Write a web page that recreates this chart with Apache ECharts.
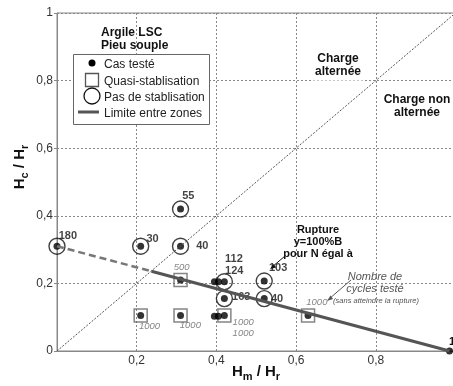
<!DOCTYPE html>
<html><head><meta charset="utf-8">
<script src="https://cdn.jsdelivr.net/npm/echarts@6/dist/echarts.min.js"></script>
<style>html,body{margin:0;padding:0;background:#fff}#c{width:453px;height:386px}</style>
</head><body><div id="c"></div>
<script>
// ---- data ----
const circleX = [0, 0.21, 0.31, 0.31, 0.42, 0.42, 0.52, 0.52];
const circleY = [0.31, 0.31, 0.31, 0.42, 0.205, 0.155, 0.207, 0.155];
const circleLabels = ['180', '30', '40', '55', '112\n124', '163', '103', '40'];
const squareX = [0.21, 0.31, 0.31, 0.42, 0.63];
const squareY = [0.105, 0.105, 0.21, 0.105, 0.105];
const squareLabels = ['1000', '1000', '500', '1000\n1000', '1000'];
const dotX = [0, 0.21, 0.31, 0.31, 0.42, 0.42, 0.52, 0.52, 0.21, 0.31, 0.31, 0.42, 0.63, 0.395, 0.405, 0.395, 0.405, 0.985];
const dotY = [0.31, 0.31, 0.31, 0.42, 0.205, 0.155, 0.207, 0.155, 0.105, 0.105, 0.21, 0.105, 0.105, 0.205, 0.205, 0.103, 0.103, 0];
const ruptureLabel = '1';
const limitX = [0, 0.237, 0.985];
const limitY = [0.31, 0.236, 0];
const diagX = [0, 1];
const diagY = [0, 1];

// ---- styles (label offsets, not data) ----
const circleOffsets = [[-7, -10], [-3, -7], [7, 0], [-7, -13], [-8, -17], [-1, -2], [-4, -13], [-2, 0]];
const squareOffsets = [[-9, 11], [-8, 10], [-14, -13], [1, 12], [-9, -13]];
const FONT = 'Arial, "Liberation Sans", sans-serif';

const zip = (xs, ys) => xs.map((x, i) => [x, ys[i]]);

const chart = echarts.init(document.getElementById('c'), null, {renderer: 'canvas'});

const circleData = circleX.map((x, i) => ({
  value: [x, circleY[i]],
  label: {formatter: circleLabels[i], offset: circleOffsets[i]}
}));
const squareData = squareX.map((x, i) => ({
  value: [x, squareY[i]],
  label: {formatter: squareLabels[i], offset: squareOffsets[i]}
}));

const fmt = v => v === 0 ? '0' : String(v).replace('.', ',');

const option = {
  animation: false,
  grid: {left: 57, top: 13, width: 398.5, height: 338, show: true, borderColor: '#888', borderWidth: 1,
         outerBoundsMode: 'none', containLabel: false},
  xAxis: {
    type: 'value', min: 0, max: 1, interval: 0.2,
    axisLine: {lineStyle: {color: '#888'}},
    axisTick: {show: false},
    splitLine: {lineStyle: {color: '#888', type: [2, 2], width: 1}},
    axisLabel: {color: '#333', fontSize: 12, fontFamily: FONT, margin: 4,
      formatter: v => (v === 0 || v === 1) ? '' : fmt(v)}
  },
  yAxis: {
    type: 'value', min: 0, max: 1, interval: 0.2,
    axisLine: {lineStyle: {color: '#888'}},
    axisTick: {show: true, length: 3, lineStyle: {color: '#888'}},
    splitLine: {lineStyle: {color: '#888', type: [2, 2], width: 1}},
    axisLabel: {color: '#333', fontSize: 12, fontFamily: FONT, margin: 4, formatter: fmt}
  },
  series: [
    {type: 'line', data: zip(diagX, diagY), symbol: 'none', silent: true,
     lineStyle: {color: '#555', width: 1, type: [2, 1.5]}},
    {type: 'line', data: zip(limitX.slice(0, 2), limitY.slice(0, 2)), symbol: 'none', silent: true,
     lineStyle: {color: '#777', width: 2.5, type: [7, 4]}},
    {type: 'line', data: zip(limitX.slice(1), limitY.slice(1)), symbol: 'none', silent: true,
     lineStyle: {color: '#555', width: 3}},
    {type: 'scatter', data: squareData, symbol: 'rect', symbolSize: 13, silent: true, clip: false,
     itemStyle: {color: 'rgba(255,255,255,0)', borderColor: '#666', borderWidth: 1.5},
     label: {show: true, position: 'right', distance: 0, color: '#666', fontSize: 9.5,
       fontStyle: 'italic', fontFamily: FONT, lineHeight: 11}},
    {type: 'scatter', data: circleData, symbol: 'circle', symbolSize: 16, silent: true, clip: false,
     itemStyle: {color: 'rgba(255,255,255,0)', borderColor: '#111', borderWidth: 1.4},
     label: {show: true, position: 'right', distance: 0, color: '#111', fontSize: 11,
       fontWeight: 'bold', fontFamily: FONT, lineHeight: 12}},
    {type: 'scatter', data: zip(dotX, dotY), symbol: 'circle', symbolSize: 7, silent: true, clip: false,
     itemStyle: {color: '#000'}}
  ],
  graphic: [
    // title
    {type: 'text', z: 100, x: 101, y: 26, style: {text: 'Argile LSC\nPieu souple', fill: '#111', font: 'bold 12px ' + FONT, lineHeight: 13}},
    // legend box
    {type: 'rect', z: 100, shape: {x: 73.5, y: 54.5, width: 136, height: 70}, style: {fill: '#fff', stroke: '#666', lineWidth: 1}},
    {type: 'circle', z: 101, shape: {cx: 92, cy: 63, r: 3.5}, style: {fill: '#000'}},
    {type: 'rect', z: 101, shape: {x: 85.5, y: 73.5, width: 13, height: 13}, style: {fill: '#fff', stroke: '#555', lineWidth: 1.3}},
    {type: 'circle', z: 101, shape: {cx: 92, cy: 96, r: 8}, style: {fill: '#fff', stroke: '#111', lineWidth: 1.3}},
    {type: 'line', z: 101, shape: {x1: 78, y1: 112, x2: 99, y2: 112}, style: {stroke: '#555', lineWidth: 3}},
    {type: 'text', z: 101, x: 104, y: 57, style: {text: 'Cas testé\nQuasi-stablisation\nPas de stablisation\nLimite entre zones', fill: '#222', font: '12px ' + FONT, lineHeight: 16.3}},
    // zone labels
    {type: 'text', z: 100, x: 338, y: 65.5, style: {text: 'Charge\nalternée', fill: '#111', font: 'bold 12px ' + FONT, lineHeight: 13, align: 'center', verticalAlign: 'middle', backgroundColor: '#fff', padding: [2, 4]}},
    {type: 'text', z: 100, x: 417, y: 106.5, style: {text: 'Charge non\nalternée', fill: '#111', font: 'bold 12px ' + FONT, lineHeight: 13, align: 'center', verticalAlign: 'middle', backgroundColor: '#fff', padding: [2, 4]}},
    // rupture annotation
    {type: 'text', z: 100, x: 318, y: 242, style: {text: 'Rupture\ny=100%B\npour N égal à', fill: '#111', font: 'bold 11px ' + FONT, lineHeight: 12, align: 'center', verticalAlign: 'middle'}},
    {type: 'line', z: 100, shape: {x1: 285, y1: 256, x2: 272, y2: 267}, style: {stroke: '#111', lineWidth: 1}},
    {type: 'polygon', z: 100, shape: {points: [[270, 269], [276, 267.5], [273.5, 264]]}, style: {fill: '#111'}},
    {type: 'text', z: 100, x: 449, y: 342, style: {text: ruptureLabel, fill: '#111', font: 'bold 11px ' + FONT, verticalAlign: 'middle'}},
    // cycles annotation
    {type: 'text', z: 100, x: 375, y: 283, style: {text: 'Nombre de\ncycles testé', fill: '#555', font: 'italic 11px ' + FONT, lineHeight: 12, align: 'center', verticalAlign: 'middle'}},
    {type: 'text', z: 100, x: 376, y: 301, style: {text: '(sans atteindre la rupture)', fill: '#555', font: 'italic 7.5px ' + FONT, align: 'center', verticalAlign: 'middle'}},
    {type: 'line', z: 100, shape: {x1: 351, y1: 280, x2: 329, y2: 299}, style: {stroke: '#555', lineWidth: 1}},
    {type: 'polygon', z: 100, shape: {points: [[327, 301], [333, 299], [330.5, 295.5]]}, style: {fill: '#555'}},
    // axis names
    {type: 'text', x: 20, y: 167, rotation: Math.PI / 2,
     style: {text: '{b|H}{s|c}{b| / H}{s|r}', align: 'center', verticalAlign: 'middle', fill: '#111',
       rich: {b: {fontSize: 15, fontWeight: 'bold', fontFamily: FONT, lineHeight: 20, verticalAlign: 'middle', fill: '#111'},
              s: {fontSize: 11, fontWeight: 'bold', fontFamily: FONT, lineHeight: 10, verticalAlign: 'bottom', fill: '#111'}}}},
    {type: 'text', x: 256, y: 372,
     style: {text: '{b|H}{s|m}{b| / H}{s|r}', align: 'center', verticalAlign: 'middle', fill: '#111',
       rich: {b: {fontSize: 15, fontWeight: 'bold', fontFamily: FONT, lineHeight: 20, verticalAlign: 'middle', fill: '#111'},
              s: {fontSize: 11, fontWeight: 'bold', fontFamily: FONT, lineHeight: 10, verticalAlign: 'bottom', fill: '#111'}}}}
  ]
};
chart.setOption(option);
</script></body></html>
